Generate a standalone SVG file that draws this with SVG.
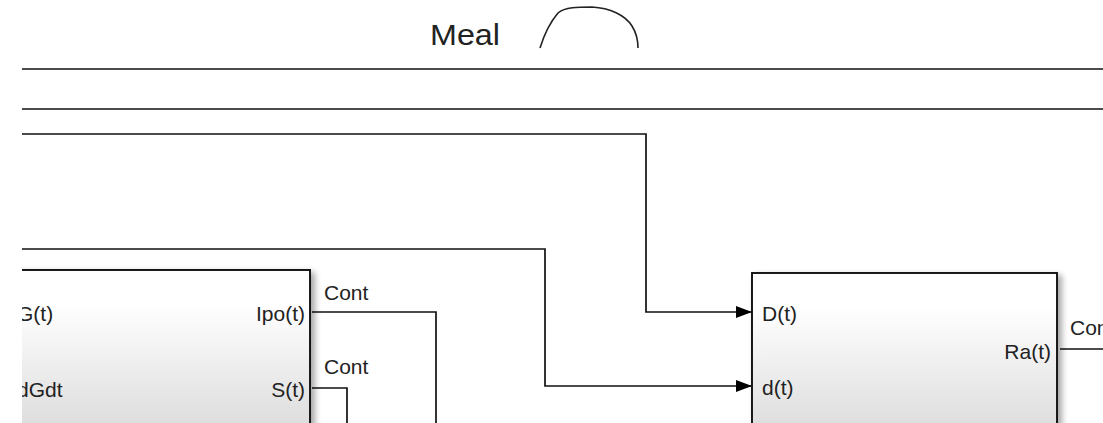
<svg xmlns="http://www.w3.org/2000/svg" width="1103" height="423" viewBox="0 0 1103 423">
  <defs>
    <linearGradient id="blockFill" x1="0" y1="0" x2="0" y2="1">
      <stop offset="0" stop-color="#ffffff"/>
      <stop offset="0.2" stop-color="#ffffff"/>
      <stop offset="1" stop-color="#d9d9d9"/>
    </linearGradient>
    <filter id="shadow" x="-5%" y="-5%" width="115%" height="115%">
      <feGaussianBlur in="SourceAlpha" stdDeviation="3"/>
      <feOffset dx="4" dy="3"/>
      <feComponentTransfer><feFuncA type="linear" slope="0.35"/></feComponentTransfer>
      <feMerge><feMergeNode/><feMergeNode in="SourceGraphic"/></feMerge>
    </filter>
    <marker id="arrow" markerWidth="16" markerHeight="12" refX="15" refY="6" orient="auto" markerUnits="userSpaceOnUse">
      <path d="M0,0 L16,6 L0,12 Z" fill="#000"/>
    </marker>
    <clipPath id="view"><rect x="22" y="0" width="1081" height="423"/></clipPath>
  </defs>
  <style>
    .wire { fill: none; stroke: #111; stroke-width: 1.7; }
    .block { fill: url(#blockFill); stroke: #111; stroke-width: 1.9; filter: url(#shadow); }
    .port { font-family: "Liberation Sans", Arial, sans-serif; font-size: 21px; fill: #222; }
    .sig { font-family: "Liberation Sans", Arial, sans-serif; font-size: 21px; fill: #222; }
    .title { font-family: "Liberation Sans", Arial, sans-serif; font-size: 30px; fill: #222; }
  </style>
  <rect width="1103" height="423" fill="#fff"/>
  <g clip-path="url(#view)">
    <!-- Meal input block (partially visible) -->
    <g id="meal">
      <text class="title" x="430" y="45" textLength="70" lengthAdjust="spacingAndGlyphs">Meal</text>
      <path d="M540,48 C545,32 552,20 558,13 C565,7 578,7 592,7 C610,8 625,15 632,26 C637,34 638,42 638,48" fill="none" stroke="#222" stroke-width="1.6"/>
    </g>

    <!-- Connectors -->
    <g id="connectors">
      <path class="wire" d="M22,69 H1103"/>
      <path class="wire" d="M22,109 H1103"/>
      <path class="wire" d="M22,134 H646 V312 H751" marker-end="url(#arrow)"/>
      <path class="wire" d="M22,249 H545 V386 H751" marker-end="url(#arrow)"/>
      <path class="wire" d="M312,312 H436 V423"/>
      <path class="wire" d="M312,388 H347 V423"/>
      <path class="wire" d="M1060,349 H1103"/>
      <text class="sig" x="324" y="300">Cont</text>
      <text class="sig" x="324" y="374">Cont</text>
      <text class="sig" x="1070" y="335">Cont</text>
    </g>

    <!-- Glucose subsystem block -->
    <g id="glucose">
      <rect class="block" x="10" y="270" width="300" height="170"/>
      <text class="port" x="17" y="321">G(t)</text>
      <text class="port" x="17" y="397">dGdt</text>
      <text class="port" x="305" y="321" text-anchor="end">Ipo(t)</text>
      <text class="port" x="305" y="397" text-anchor="end">S(t)</text>
    </g>

    <!-- Glucose absorption block -->
    <g id="absorption">
      <rect class="block" x="752" y="273" width="305" height="170"/>
      <text class="port" x="762" y="321">D(t)</text>
      <text class="port" x="762" y="395">d(t)</text>
      <text class="port" x="1051" y="359" text-anchor="end">Ra(t)</text>
    </g>
  </g>
</svg>
